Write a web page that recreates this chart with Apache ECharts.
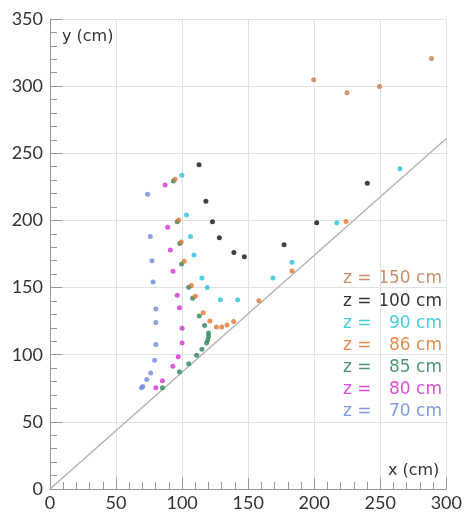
<!DOCTYPE html>
<html>
<head>
<meta charset="utf-8">
<script src="https://cdn.jsdelivr.net/npm/echarts@6/dist/echarts.min.js"></script>
<style>html,body{margin:0;padding:0;background:#fff;}#c{width:465px;height:512px;}</style>
</head>
<body>
<div id="c"></div>
<script>
// tick labels
const xTicks = [0, 50, 100, 150, 200, 250, 300];
const yTicks = [0, 50, 100, 150, 200, 250, 300, 350];

// series (x cm, y cm)
const z150 = [[199.6,304.8],[224.8,295.1],[249.4,299.8],[288.8,320.6]];
const z100 = [[112.8,241.5],[118,214.3],[123,199],[128.2,187.1],[139.2,176.2],[147.1,173],[177.2,181.9],[201.9,198.2],[240.2,227.6]];
const z90 = [[99.8,233.6],[103.3,204.1],[106.3,188.1],[109,174.3],[115,157.2],[119,150],[129,141],[142,141],[168.8,157.2],[183.2,168.8],[217.1,198.2],[264.9,238.5]];
const z86 = [[94.6,230.6],[97.4,200.3],[99.3,184],[101.6,169.6],[107,151.5],[110,143.6],[116,131.2],[121,125.1],[126,120.6],[130,120.6],[134,122.1],[139,124.8],[158.1,140.1],[183.2,162.4],[224,199.2]];
const z85 = [[93.4,229.4],[96.3,199],[98.2,182.8],[99.6,167.6],[105,150.3],[108,142.1],[113,128.8],[117,121.8],[120,116.2],[120,113.7],[119.5,111.2],[118.5,108.8],[115,104],[111,99.6],[105,93.3],[98,87.3],[85.1,75.4]];
const z80 = [[87.1,226.4],[89.1,195],[91.1,178],[93.1,162.2],[96.3,144.3],[98,135],[100,119.7],[100,108.7],[97.1,98.5],[93,91.5],[85.1,80.6],[80.1,75.4]];
const z70 = [[73.9,219.5],[75.9,188.1],[77.2,170],[78,154.2],[80.1,134],[80.1,124],[80.1,107.6],[79.2,95.8],[76.2,86.4],[73.2,81.6],[70.2,76.4],[69.2,75.4]];
const diagonal = [[0,0],[300,261]];

const zValues = ['150', '100', '90', '86', '85', '80', '70'];
const zData = [z150, z100, z90, z86, z85, z80, z70];
const zColors = ['#c47a4f', '#111111', '#29c3d6', '#e0782f', '#2f8559', '#d42fd4', '#7088dc'];

const chart = echarts.init(document.getElementById('c'), null, {renderer: 'canvas'});

const series = [{
  type: 'line', data: diagonal, symbol: 'none', silent: true,
  lineStyle: {color: '#b4b4b4', width: 1.5}, z: 1
}];
// draw order: bottom to top
const order = [6, 5, 4, 3, 2, 1, 0];
order.forEach(i => {
  series.push({
    name: 'z = ' + zValues[i] + ' cm', type: 'scatter', data: zData[i],
    symbolSize: 5, itemStyle: {color: zColors[i]}, z: 3
  });
});

const legendTop = 279, legendStep = 22.1;
const graphics = [];
zValues.forEach((v, i) => {
  const y = legendTop + i * legendStep;
  graphics.push({type: 'text', style: {text: 'z =', x: 343, y: y, fill: zColors[i], font: '17px "DejaVu Sans"', textAlign: 'left', textVerticalAlign: 'middle', align: 'left', verticalAlign: 'middle', opacity: 0.85}});
  graphics.push({type: 'text', style: {text: v + ' cm', x: 442, y: y, fill: zColors[i], font: '17px "DejaVu Sans"', textAlign: 'right', textVerticalAlign: 'middle', align: 'right', verticalAlign: 'middle', opacity: 0.85}});
});

chart.setOption({
  animation: false,
  backgroundColor: '#fff',
  grid: {left: 50, right: 13, top: 19, bottom: 21, containLabel: false},
  xAxis: {
    type: 'value', min: xTicks[0], max: xTicks[xTicks.length - 1], interval: 50,
    name: 'x (cm)', nameLocation: 'end', nameGap: -7,
    nameTextStyle: {fontFamily: 'DejaVu Sans', fontSize: 16, color: '#333', align: 'right', verticalAlign: 'bottom', padding: [0, 0, 10, 0]},
    axisLine: {show: true, onZero: false, lineStyle: {color: '#999', width: 1}},
    axisTick: {show: true, inside: true, length: 11, lineStyle: {color: '#999'}},
    minorTick: {show: true, splitNumber: 5, length: 7, lineStyle: {color: '#999'}},
    splitLine: {show: true, lineStyle: {color: '#e2e2e2', width: 1}},
    axisLabel: {fontFamily: 'Lato', fontSize: 18, color: '#333', margin: 5}
  },
  yAxis: {
    type: 'value', min: yTicks[0], max: yTicks[yTicks.length - 1], interval: 50,
    name: 'y (cm)', nameLocation: 'end', nameGap: -18,
    nameTextStyle: {fontFamily: 'DejaVu Sans', fontSize: 16, color: '#333', align: 'left', verticalAlign: 'middle', padding: [0, 0, 0, 12]},
    axisLine: {show: true, onZero: false, lineStyle: {color: '#999', width: 1}},
    axisTick: {show: true, inside: true, length: 12, lineStyle: {color: '#999'}},
    minorTick: {show: true, splitNumber: 5, length: 7, lineStyle: {color: '#999'}},
    splitLine: {show: true, lineStyle: {color: '#e2e2e2', width: 1}},
    axisLabel: {fontFamily: 'Lato', fontSize: 18, color: '#333', margin: 7}
  },
  graphic: graphics,
  series: series
});
</script>
</body>
</html>
